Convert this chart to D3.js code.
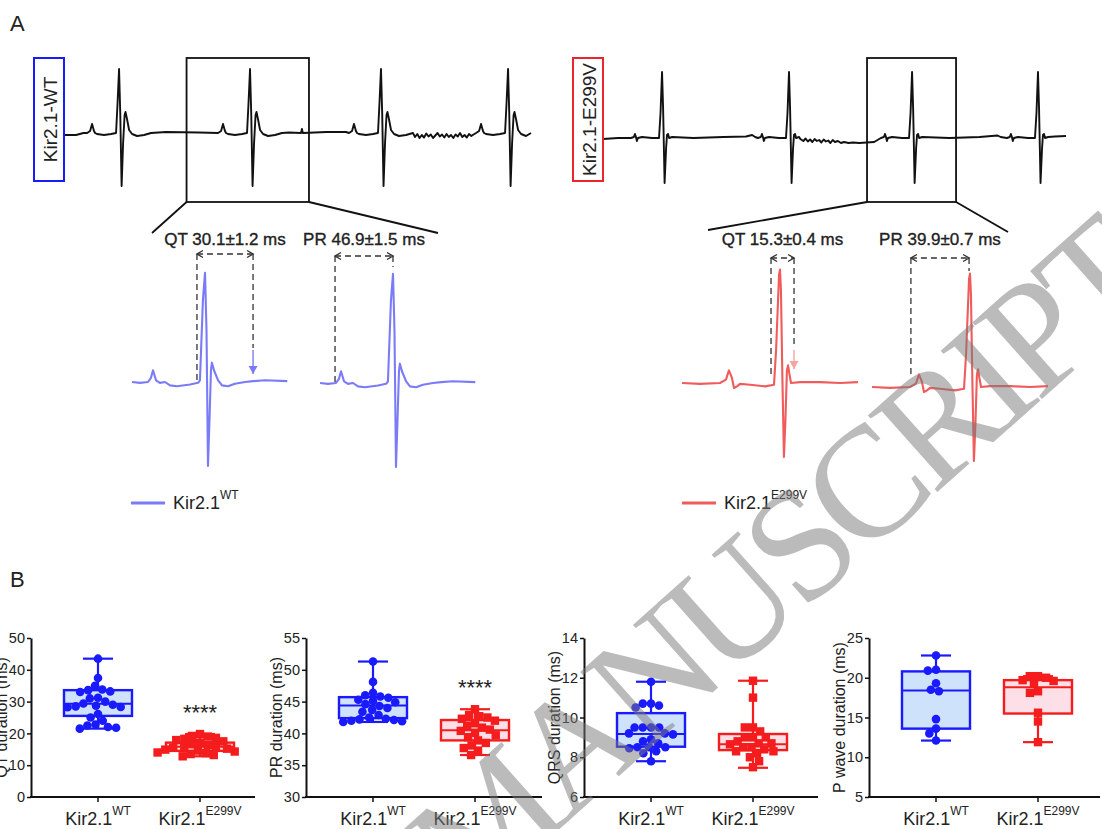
<!DOCTYPE html>
<html>
<head>
<meta charset="utf-8">
<script src="https://cdn.jsdelivr.net/npm/d3@7/dist/d3.min.js"></script>
<style>
html,body{margin:0;padding:0;background:#fff;}
svg{display:block;font-family:"Liberation Sans",Arial,Helvetica,sans-serif;}
</style>
</head>
<body>
<svg id="fig" width="1102" height="829"></svg>
<script>
// ================= DATA =================
// ---- Panel A: long ECG traces (time ms, amplitude mV) ----
const topSpanWT = [0, 311.3];
const topBeatTimesWT = [36.7, 124, 211.3, 296];
const topBeatWT = [[-21.3,0],[-19.3,0.04],[-18,0.18],[-16.7,0.04],[-16,0],[-14.7,-0.02],[-10,-0.04],[-5.3,-0.02],[-2,0],[-1,0.6],[0,1.28],[0.8,0.4],[1.7,-1.06],[2.7,-0.2],[3.7,0.36],[4.3,0.42],[5.3,0.28],[6.7,0.06],[8.7,-0.02],[12,-0.06],[16.7,-0.04],[21.3,0]];
const topExtraWT = [[0,-0.04],[8,-0.04],[13,0],[68,0.02],[90,0.01],[150,0.01],[158,0],[158.6,0.08],[159.2,0],[175,0.02],[188,0.02],
  [234,-0.08],[235.5,-0.02],[237,-0.1],[238.5,-0.04],[240,-0.09],[241.5,-0.01],[243,-0.07],[244.5,-0.03],[246,-0.1],[247.5,-0.05],[249,0.0],[250.5,-0.07],[252,-0.03],[253.5,-0.09],[255,-0.02],[256.5,-0.08],[258,-0.04],[259.5,-0.1],[261,-0.03],[262.5,-0.07],[264,0.0],[265.5,-0.08],[267,-0.04],[268.5,-0.09],[270,-0.02],[271.5,-0.06],[273,-0.03],[311.3,0]];
const zoomWindowWT = [81.7, 163.3];

const topSpanE = [0, 307.4];
const topBeatTimesE = [39.2, 123.5, 205.2, 288.8];
const topBeatE = [[-20.7,0],[-18.7,0.02],[-18,0.08],[-17.3,0.02],[-16.7,-0.06],[-16,0],[-13.3,0.02],[-6.7,0],[-2,0],[-1,0.5],[0,1.32],[0.7,0.6],[1.7,-0.9],[2.7,-0.2],[3.3,0.06],[4,0.08],[4.7,0],[6.7,0.02]];
const topExtraE = [[0,-0.02],[10,0],[60,0],[80,0.02],[95,0.03],[99,0.06],[101,0.02],
  [131,-0.02],[133,-0.06],[134.5,-0.01],[136,-0.07],[137.5,-0.03],[139,-0.08],[140.5,-0.02],[142,-0.06],[143.5,-0.04],[145,-0.09],[146.5,-0.03],[148,-0.07],[149.5,-0.05],[151,-0.1],[152.5,-0.04],[154,-0.08],[156,-0.06],[158,-0.1],[160,-0.08],[163,-0.1],[166,-0.09],[170,-0.1],[175,-0.09],[180,-0.08],
  [230,0.0],[250,0.02],[262,0.05],[264,0.02],[300,0.03],[307.4,0.04]];
const zoomWindowE = [175.3, 234.4];

// ---- Panel A: zoomed single beats (ms relative to R peak, mV) ----
const zoomBeatWT = [[-39,0],[-34.8,-0.01],[-30.5,0],[-28.9,0.05],[-27.8,0.14],[-26.2,0.02],[-24.1,-0.01],[-21.4,0],[-18.7,-0.04],[-15,-0.05],[-8,-0.03],[-3.7,-0.01],[-2.7,0.02],[-1.1,0.98],[0,1.30],[0.8,0.62],[1.6,-1.0],[2.4,-0.45],[3.2,0.14],[3.7,0.23],[4.8,0.14],[7.0,0.02],[9.1,-0.04],[12.3,-0.05],[16,-0.02],[21.4,0],[25.7,0.01],[32,0.02],[44,0.01]];
const zoomBeatE = [[-52.4,0],[-42.8,-0.01],[-32.1,0],[-28.9,0.04],[-27.3,0.15],[-25.7,0.06],[-24.6,-0.06],[-23,-0.04],[-21.4,-0.01],[-16,-0.02],[-8,-0.04],[-3.2,-0.02],[-2.1,0.39],[-0.5,1.29],[0,1.35],[0.5,1.11],[1.3,0.04],[2.1,-0.88],[2.9,-0.44],[3.7,0.15],[4.3,0.21],[5.1,0.1],[5.9,0],[10.7,0.01],[21.4,0.01],[32.1,0],[41.7,0.01]];
const qtMarkWT = [-4.3, 25.7], prMarkWT = [-31, 0];
const qtMarkE = [-4.8, 7.5], prMarkE = [-31.6, -0.5];
const annotLabels = ["QT 30.1±1.2 ms", "PR 46.9±1.5 ms", "QT 15.3±0.4 ms", "PR 39.9±0.7 ms"];
const traceLabels = ["Kir2.1-WT", "Kir2.1-E299V"];

// ---- Panel B: box plots ----
const categories = ["WT", "E299V"];
const qtWT = [43.5,37.4,35.0,33.8,33.6,33.2,33.0,31.2,31.0,30.0,29.4,29.0,28.7,28.5,28.3,28.2,26.1,25.0,24.0,22.8,22.5,22.0,21.8,21.5];
const qtE = [19.8,19.2,19.0,18.6,18.3,17.9,17.5,17.1,16.6,16.3,16.0,15.7,15.5,15.2,14.9,14.6,14.3,14.0,13.8,13.5,13.2,12.8];
const qtBoxWT = [21.5,25.5,29.3,33.6,43.5], qtBoxE = [12.8,14.5,15.8,17.1,19.8];
const prWT = [51.3,48.1,46.4,46.0,45.8,45.6,45.3,45.1,44.9,44.6,44.3,44.0,43.7,43.4,42.9,42.5,42.3,42.2,42.1,42.0,41.9,41.8];
const prE = [43.8,42.9,42.7,42.5,42.3,42.0,41.6,41.2,40.9,40.6,40.4,40.1,39.7,39.4,38.9,38.5,38.1,37.7,37.3,36.6];
const prBoxWT = [41.8,42.4,44.4,45.7,51.3], prBoxE = [36.6,38.9,40.5,42.1,43.8];
const qrsWT = [11.8,10.7,10.7,10.6,10.5,9.5,9.5,9.5,9.5,9.2,9.2,9.15,8.9,8.8,8.7,8.5,8.5,8.5,8.45,8.3,8.2,7.8];
const qrsE = [11.85,11.0,9.5,9.5,9.3,9.0,9.0,9.0,8.8,8.7,8.7,8.65,8.5,8.5,8.4,8.3,8.3,8.2,8.0,7.8,7.5];
const qrsBoxWT = [7.8,8.53,9.17,10.22,11.8], qrsBoxE = [7.47,8.36,8.66,9.17,11.85];
const pwWT = [22.8,21.0,20.9,19.3,18.5,18.3,14.8,13.6,13.0,12.1];
const pwE = [20.2,20.2,20.0,19.7,19.6,19.3,18.3,18.1,15.6,14.5,11.9];
const pwBoxWT = [12.1,13.6,18.4,20.8,22.8], pwBoxE = [11.9,15.5,18.8,19.7,20.2];
const yTitles = ["QT duration (ms)", "PR duration (ms)", "QRS duration (ms)", "P wave duration (ms)"];
const yDomains = [[0,50],[30,55],[6,14],[5,25]];
const yTicks = [[0,10,20,30,40,50],[30,35,40,45,50,55],[6,8,10,12,14],[5,10,15,20,25]];
const sigLabels = ["****", "****", "", ""];

// ================= DRAWING =================
const svg = d3.select("#fig");
const C = {blue:"#1a1aff", red:"#f41c1c", blueFill:"#cfe2fb", redFill:"#fde0e7", zBlue:"#7b7bf8", zRed:"#f05c5c", ink:"#222"};

svg.append("text").attr("x",10).attr("y",31).attr("font-size",22).attr("fill",C.ink).text("A");
svg.append("text").attr("x",10).attr("y",587).attr("font-size",22).attr("fill",C.ink).text("B");

// defs: arrow markers
const defs = svg.append("defs");
defs.append("marker").attr("id","chev").attr("markerUnits","userSpaceOnUse")
  .attr("markerWidth",12).attr("markerHeight",12).attr("refX",0).attr("refY",0)
  .attr("viewBox","-8 -6 10 12").attr("orient","auto-start-reverse")
  .append("path").attr("d","M-6,-3.5 L0,0 L-6,3.5").attr("fill","none").attr("stroke","#333").attr("stroke-width",1.4);
function triMarker(id,color){
  defs.append("marker").attr("id",id).attr("markerUnits","userSpaceOnUse")
    .attr("markerWidth",12).attr("markerHeight",12).attr("refX",0).attr("refY",0)
    .attr("viewBox","-9 -6 10 12").attr("orient","auto")
    .append("path").attr("d","M-8,-4.5 L0,0 L-8,4.5 Z").attr("fill",color);
}
triMarker("triB", C.zBlue); triMarker("triR", "#f7a3a3");

// ---- long traces ----
function drawTop(cfg){
  const x = d3.scaleLinear().domain(cfg.span).range([cfg.x0, cfg.x1]);
  const y = d3.scaleLinear().domain([-1,1]).range([cfg.base+50, cfg.base-50]);
  let pts = cfg.extra.slice();
  cfg.beats.forEach(b => cfg.template.forEach(([t,v]) => pts.push([b+t, v])));
  pts = pts.filter(p => p[0] >= cfg.span[0] && p[0] <= cfg.span[1]).sort((a,b)=>a[0]-b[0]);
  svg.append("path").datum(pts).attr("fill","none").attr("stroke","#111").attr("stroke-width",1.9)
    .attr("stroke-linejoin","round")
    .attr("d", d3.line().x(d=>x(d[0])).y(d=>y(d[1])));
  svg.append("rect").attr("x",cfg.lbx).attr("y",58).attr("width",30).attr("height",123)
    .attr("fill","#fff").attr("stroke",cfg.color).attr("stroke-width",2);
  svg.append("text").attr("transform",`translate(${cfg.lbx+16},119.5) rotate(-90)`)
    .attr("text-anchor","middle").attr("dominant-baseline","central")
    .attr("font-size",19).attr("fill",C.ink).text(cfg.label);
  const zx0 = x(cfg.win[0]), zx1 = x(cfg.win[1]);
  svg.append("rect").attr("x",zx0).attr("y",58).attr("width",zx1-zx0).attr("height",144)
    .attr("fill","none").attr("stroke","#111").attr("stroke-width",1.8);
  svg.append("line").attr("x1",zx0).attr("y1",202).attr("x2",cfg.fan[0]).attr("y2",cfg.fan[1])
    .attr("stroke","#111").attr("stroke-width",1.8);
  svg.append("line").attr("x1",zx1).attr("y1",202).attr("x2",cfg.fan[2]).attr("y2",cfg.fan[3])
    .attr("stroke","#111").attr("stroke-width",1.8);
}
drawTop({span:topSpanWT, beats:topBeatTimesWT, template:topBeatWT, extra:topExtraWT, x0:64, x1:531, base:133,
  lbx:34, color:C.blue, label:traceLabels[0], win:zoomWindowWT, fan:[152,233,438,233]});
drawTop({span:topSpanE, beats:topBeatTimesE, template:topBeatE, extra:topExtraE, x0:603, x1:1066, base:138,
  lbx:573, color:"#e8262b", label:traceLabels[1], win:zoomWindowE, fan:[708,230,1008,232]});

// ---- zoomed beats ----
const PXMS = 1.87, PXMV = 84;
function zoomScales(rx, base){
  return {x: d3.scaleLinear().domain([0,1]).range([rx, rx+PXMS]),
          y: d3.scaleLinear().domain([0,1]).range([base, base-PXMV])};
}
function drawZoom(template, rx, base, color){
  const s = zoomScales(rx, base);
  svg.append("path").datum(template).attr("fill","none").attr("stroke",color).attr("stroke-width",2.1)
    .attr("stroke-linejoin","round")
    .attr("d", d3.line().x(d=>s.x(d[0])).y(d=>s.y(d[1])));
  return s;
}
function dashed(x1,y1,x2,y2){
  return svg.append("line").attr("x1",x1).attr("y1",y1).attr("x2",x2).attr("y2",y2)
    .attr("stroke","#333").attr("stroke-width",1.3).attr("stroke-dasharray","6,4");
}
function annot(s, marks, label, ay, leftEnd, right){
  const xa = s.x(marks[0]), xb = s.x(marks[1]);
  svg.append("text").attr("x",(xa+xb)/2).attr("y",245).attr("text-anchor","middle")
    .attr("font-size",17).attr("fill",C.ink).attr("stroke",C.ink).attr("stroke-width",0.35).text(label);
  dashed(xa, ay, xb, ay).attr("marker-start","url(#chev)").attr("marker-end","url(#chev)");
  dashed(xa, ay, xa, leftEnd);
  if (right.arrow){
    dashed(xb, ay, xb, right.y0);
    svg.append("line").attr("x1",xb).attr("y1",right.y0+2).attr("x2",xb).attr("y2",right.y1)
      .attr("stroke",right.color).attr("stroke-width",1.4).attr("marker-end",`url(#${right.marker})`);
  } else {
    dashed(xb, ay, xb, right.y1);
  }
}
const sW1 = drawZoom(zoomBeatWT, 205, 382, C.zBlue);
const sW2 = drawZoom(zoomBeatWT, 393, 383, C.zBlue);
const sE1 = drawZoom(zoomBeatE, 780, 383, C.zRed);
const sE2 = drawZoom(zoomBeatE, 970, 387, C.zRed);
annot(sW1, qtMarkWT, annotLabels[0], 254, 382, {arrow:true, y0:348, y1:374, color:C.zBlue, marker:"triB"});
annot(sW2, prMarkWT, annotLabels[1], 256, 385, {arrow:false, y1:267});
annot(sE1, qtMarkE, annotLabels[2], 258, 378, {arrow:true, y0:348, y1:369, color:"#f7a3a3", marker:"triR"});
annot(sE2, prMarkE, annotLabels[3], 258, 377, {arrow:false, y1:271});

// legends
function kirLabel(g, x, y, sup, anchor, fs, sfs){
  const t = g.append("text").attr("x",x).attr("y",y).attr("font-size",fs).attr("fill",C.ink).attr("text-anchor",anchor||"start");
  t.append("tspan").text("Kir2.1");
  t.append("tspan").attr("dy",-10).attr("font-size",sfs).text(sup);
  return t;
}
[[131,C.zBlue,categories[0]],[682,C.zRed,categories[1]]].forEach(([lx,col,sup])=>{
  svg.append("line").attr("x1",lx).attr("x2",lx+34).attr("y1",503).attr("y2",503).attr("stroke",col).attr("stroke-width",3);
  kirLabel(svg, lx+42, 509, sup, "start", 18, 12);
});

// ---- Panel B: box plots ----
const panels = [
  {x0:31,  w:224, data:[qtWT,qtE],   box:[qtBoxWT,qtBoxE]},
  {x0:306, w:236, data:[prWT,prE],   box:[prBoxWT,prBoxE]},
  {x0:584, w:234, data:[qrsWT,qrsE], box:[qrsBoxWT,qrsBoxE]},
  {x0:869, w:231, data:[pwWT,pwE],   box:[pwBoxWT,pwBoxE]}
];
function swarm(vals, y, r){
  const pts = vals.map(v=>({v, y:y(v)})).sort((a,b)=>a.y-b.y);
  const placed = [];
  for (const p of pts){
    const iv = [];
    for (const q of placed){ const dy = p.y-q.y; if (Math.abs(dy) < 2*r){ const dx = Math.sqrt(4*r*r-dy*dy); iv.push([q.x-dx,q.x+dx]); } }
    const cands = [0]; iv.forEach(([a,b])=>cands.push(a,b));
    cands.sort((a,b)=>Math.abs(a)-Math.abs(b) || a-b);
    for (const c of cands){ if (iv.every(([a,b])=> c<=a+1e-6 || c>=b-1e-6)){ p.x=c; break; } }
    placed.push(p);
  }
  return placed;
}
const yTop = 638, yBot = 797;
panels.forEach((P, i) => {
  const g = svg.append("g");
  const y = d3.scaleLinear().domain(yDomains[i]).range([yBot, yTop]);
  const x = d3.scalePoint().domain(categories).range([P.x0+67, P.x0+169]);
  const ya = g.append("g").attr("transform",`translate(${P.x0},0)`)
    .call(d3.axisLeft(y).tickValues(yTicks[i]).tickSize(4).tickPadding(2).tickSizeOuter(0));
  ya.select(".domain").attr("stroke","#111").attr("stroke-width",2);
  ya.selectAll(".tick line").attr("stroke","#111").attr("stroke-width",1.5);
  ya.selectAll(".tick text").attr("font-size",14.5).attr("fill",C.ink).attr("font-family","Liberation Sans, Arial, sans-serif");
  g.append("line").attr("x1",P.x0-1).attr("x2",P.x0+P.w).attr("y1",yBot).attr("y2",yBot).attr("stroke","#111").attr("stroke-width",2);
  categories.forEach(c => {
    g.append("line").attr("x1",x(c)).attr("x2",x(c)).attr("y1",yBot).attr("y2",yBot+5).attr("stroke","#111").attr("stroke-width",1.5);
    kirLabel(g, x(c), 825, c, "middle", 18, 12);
  });
  g.append("text").attr("transform",`translate(${P.x0-24},${(yTop+yBot)/2}) rotate(-90)`)
    .attr("text-anchor","middle").attr("font-size",16).attr("fill",C.ink).text(yTitles[i]);
  categories.forEach((c, k) => {
    const col = k===0 ? C.blue : C.red, fill = k===0 ? C.blueFill : C.redFill;
    const [mn,q1,md,q3,mx] = P.box[k];
    const cx = x(c), hw = 34, cw = 15;
    g.append("line").attr("x1",cx).attr("x2",cx).attr("y1",y(mx)).attr("y2",y(q3)).attr("stroke",col).attr("stroke-width",2.2);
    g.append("line").attr("x1",cx).attr("x2",cx).attr("y1",y(q1)).attr("y2",y(mn)).attr("stroke",col).attr("stroke-width",2.2);
    g.append("line").attr("x1",cx-cw).attr("x2",cx+cw).attr("y1",y(mx)).attr("y2",y(mx)).attr("stroke",col).attr("stroke-width",2.2);
    g.append("line").attr("x1",cx-cw).attr("x2",cx+cw).attr("y1",y(mn)).attr("y2",y(mn)).attr("stroke",col).attr("stroke-width",2.2);
    g.append("rect").attr("x",cx-hw).attr("y",y(q3)).attr("width",2*hw).attr("height",y(q1)-y(q3))
      .attr("fill",fill).attr("stroke",col).attr("stroke-width",2.4);
    g.append("line").attr("x1",cx-hw).attr("x2",cx+hw).attr("y1",y(md)).attr("y2",y(md)).attr("stroke",col).attr("stroke-width",2);
    const pts = swarm(P.data[k], y, 4.1);
    if (k===0){
      g.selectAll(null).data(pts).enter().append("circle")
        .attr("cx",d=>cx+d.x).attr("cy",d=>d.y).attr("r",4.3).attr("fill",col);
    } else {
      g.selectAll(null).data(pts).enter().append("rect")
        .attr("x",d=>cx+d.x-4.2).attr("y",d=>d.y-4.2).attr("width",8.4).attr("height",8.4).attr("fill",col);
    }
    if (k===1 && sigLabels[i]){
      g.append("text").attr("x",cx).attr("y",y(mx)-14).attr("text-anchor","middle")
        .attr("font-size",22).attr("fill",C.ink).text(sigLabels[i]);
    }
  });
});

// ---- watermark ----
svg.append("text").attr("transform","translate(1162,292) rotate(-41.7)")
  .attr("text-anchor","end").attr("font-family","'Liberation Serif','Times New Roman',serif")
  .attr("font-size",158).attr("letter-spacing",-9).attr("fill","#7a7a7a").attr("opacity",0.5)
  .text("ACCEPTED MANUSCRIPT");
</script>
</body>
</html>
